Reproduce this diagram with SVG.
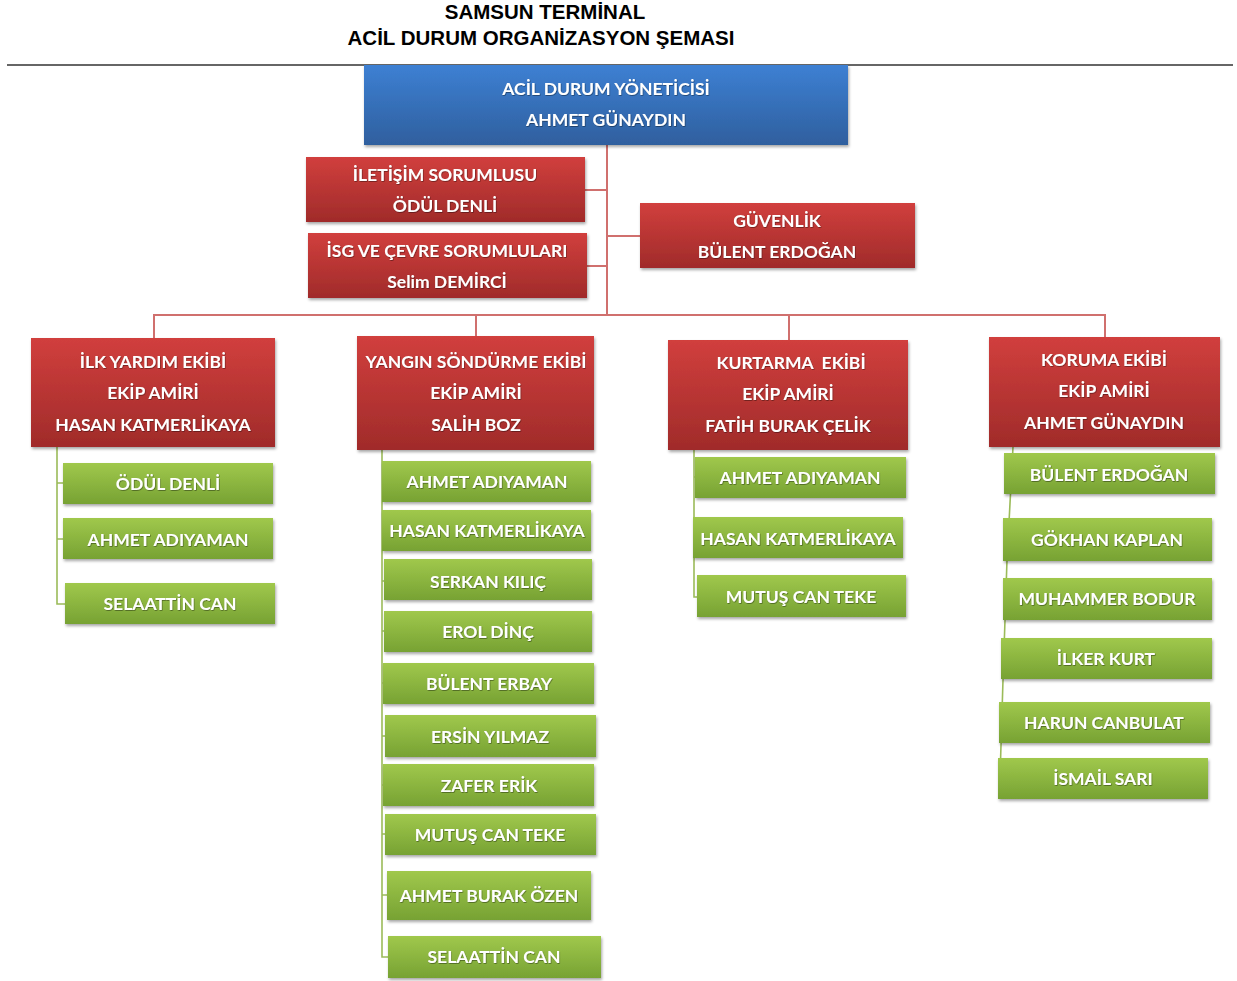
<svg xmlns="http://www.w3.org/2000/svg" width="1237" height="981" viewBox="0 0 1237 981">
<defs>
<linearGradient id="gBlue" x1="0" y1="0" x2="0" y2="1"><stop offset="0" stop-color="#3d80d3"/><stop offset="1" stop-color="#2f5f9e"/></linearGradient>
<linearGradient id="gRed" x1="0" y1="0" x2="0" y2="1"><stop offset="0" stop-color="#d13f3d"/><stop offset="1" stop-color="#a02b2a"/></linearGradient>
<linearGradient id="gGreen" x1="0" y1="0" x2="0" y2="1"><stop offset="0" stop-color="#a0c84c"/><stop offset="1" stop-color="#77a233"/></linearGradient>
<filter id="sh" x="-10%" y="-20%" width="120%" height="150%"><feDropShadow dx="1" dy="2" stdDeviation="1.5" flood-color="#000" flood-opacity="0.35"/></filter>
<filter id="tsh" x="-10%" y="-30%" width="120%" height="160%"><feDropShadow dx="0.6" dy="0.8" stdDeviation="0.6" flood-color="#000" flood-opacity="0.45"/></filter>
</defs>
<style>
.blue{fill:url(#gBlue);filter:url(#sh)}
.red{fill:url(#gRed);filter:url(#sh)}
.green{fill:url(#gGreen);filter:url(#sh)}
.t{font-family:Lato,"Open Sans",sans-serif;font-weight:bold;font-size:17.5px;fill:#fff;text-anchor:middle;dominant-baseline:central;filter:url(#tsh)}
.title{font-family:"Liberation Sans",Arial,sans-serif;font-weight:bold;font-size:20.5px;fill:#000;text-anchor:middle}
.rl{stroke:#d0706e;stroke-width:2;fill:none}
.gl{stroke:#9bbb59;stroke-width:1.6;fill:none}
</style>
<rect width="1237" height="981" fill="#fff"/>
<g id="title">
<text class="title" x="545" y="19">SAMSUN TERMİNAL</text>
<text class="title" x="541" y="45">ACİL DURUM ORGANİZASYON ŞEMASI</text>
<line x1="7" y1="65" x2="1233" y2="65" stroke="#333" stroke-width="1.5"/>
</g>
<g id="connectors">
<path class="rl" d="M607 145V316M585 190H607M587 266H607M607 236H640"/>
<path class="rl" d="M154 338V315H1105V337M476 315V336M789 315V340"/>
<path class="gl" d="M57 447V604H65M57 483H63M57 539H63"/>
<path class="gl" d="M382 450V957H388M382 581H384M382 631H384M382 683H383M382 736H385M382 785H383M382 834H385M382 895H387"/>
<path class="gl" d="M694 450V597H697M694 477H695"/>
<path class="gl" d="M1013 447L1007 560L1003 680L1000 778M1008 474H1004M1006 539H1003M1005 598H1003M1003 658H1001M1001 722H999"/>
</g>
<g id="n-yonetici"><rect class="blue" x="364" y="65" width="484" height="80"/><text class="t" x="606" y="88">ACİL DURUM YÖNETİCİSİ</text><text class="t" x="606" y="119">AHMET GÜNAYDIN</text></g>
<g id="n-iletisim"><rect class="red" x="306" y="157" width="279" height="65"/><text class="t" x="445" y="174">İLETİŞİM SORUMLUSU</text><text class="t" x="445" y="205">ÖDÜL DENLİ</text></g>
<g id="n-isg"><rect class="red" x="308" y="233" width="279" height="65"/><text class="t" x="447" y="250">İSG VE ÇEVRE SORUMLULARI</text><text class="t" x="447" y="281">Selim DEMİRCİ</text></g>
<g id="n-guvenlik"><rect class="red" x="640" y="203" width="275" height="65"/><text class="t" x="777" y="220">GÜVENLİK</text><text class="t" x="777" y="251">BÜLENT ERDOĞAN</text></g>
<g id="n-ilkyardim"><rect class="red" x="31" y="338" width="244" height="109"/><text class="t" x="153" y="361">İLK YARDIM EKİBİ</text><text class="t" x="153" y="392">EKİP AMİRİ</text><text class="t" x="153" y="424">HASAN KATMERLİKAYA</text></g>
<g id="n-yangin"><rect class="red" x="357" y="336" width="237" height="114"/><text class="t" x="476" y="361">YANGIN SÖNDÜRME EKİBİ</text><text class="t" x="476" y="392">EKİP AMİRİ</text><text class="t" x="476" y="424">SALİH BOZ</text></g>
<g id="n-kurtarma"><rect class="red" x="668" y="340" width="240" height="110"/><text class="t" x="791" y="362" xml:space="preserve">KURTARMA  EKİBİ</text><text class="t" x="788" y="393">EKİP AMİRİ</text><text class="t" x="788" y="425">FATİH BURAK ÇELİK</text></g>
<g id="n-koruma"><rect class="red" x="989" y="337" width="231" height="110"/><text class="t" x="1104" y="359">KORUMA EKİBİ</text><text class="t" x="1104" y="390">EKİP AMİRİ</text><text class="t" x="1104" y="422">AHMET GÜNAYDIN</text></g>
<g id="n-iy1"><rect class="green" x="63" y="463" width="210" height="41"/><text class="t" x="168" y="483">ÖDÜL DENLİ</text></g>
<g id="n-iy2"><rect class="green" x="63" y="518" width="210" height="41"/><text class="t" x="168" y="539">AHMET ADIYAMAN</text></g>
<g id="n-iy3"><rect class="green" x="65" y="583" width="210" height="41"/><text class="t" x="170" y="603">SELAATTİN CAN</text></g>
<g id="n-ys1"><rect class="green" x="382" y="461" width="209" height="41"/><text class="t" x="487" y="481">AHMET ADIYAMAN</text></g>
<g id="n-ys2"><rect class="green" x="382" y="510" width="209" height="41"/><text class="t" x="487" y="530">HASAN KATMERLİKAYA</text></g>
<g id="n-ys3"><rect class="green" x="384" y="559" width="208" height="41"/><text class="t" x="488" y="581">SERKAN KILIÇ</text></g>
<g id="n-ys4"><rect class="green" x="384" y="611" width="208" height="41"/><text class="t" x="488" y="631">EROL DİNÇ</text></g>
<g id="n-ys5"><rect class="green" x="383" y="663" width="211" height="41"/><text class="t" x="489" y="683">BÜLENT ERBAY</text></g>
<g id="n-ys6"><rect class="green" x="385" y="715" width="211" height="42"/><text class="t" x="490" y="736">ERSİN YILMAZ</text></g>
<g id="n-ys7"><rect class="green" x="383" y="764" width="211" height="42"/><text class="t" x="489" y="785">ZAFER ERİK</text></g>
<g id="n-ys8"><rect class="green" x="385" y="814" width="211" height="41"/><text class="t" x="490" y="834">MUTUŞ CAN TEKE</text></g>
<g id="n-ys9"><rect class="green" x="387" y="871" width="204" height="49"/><text class="t" x="489" y="895">AHMET BURAK ÖZEN</text></g>
<g id="n-ys10"><rect class="green" x="388" y="936" width="213" height="42"/><text class="t" x="494" y="956">SELAATTİN CAN</text></g>
<g id="n-ku1"><rect class="green" x="695" y="457" width="211" height="41"/><text class="t" x="800" y="477">AHMET ADIYAMAN</text></g>
<g id="n-ku2"><rect class="green" x="693" y="517" width="210" height="41"/><text class="t" x="798" y="538">HASAN KATMERLİKAYA</text></g>
<g id="n-ku3"><rect class="green" x="697" y="575" width="209" height="42"/><text class="t" x="801" y="596">MUTUŞ CAN TEKE</text></g>
<g id="n-ko1"><rect class="green" x="1004" y="453" width="211" height="41"/><text class="t" x="1109" y="474">BÜLENT ERDOĞAN</text></g>
<g id="n-ko2"><rect class="green" x="1003" y="518" width="209" height="43"/><text class="t" x="1107" y="539">GÖKHAN KAPLAN</text></g>
<g id="n-ko3"><rect class="green" x="1003" y="578" width="209" height="42"/><text class="t" x="1107" y="598">MUHAMMER BODUR</text></g>
<g id="n-ko4"><rect class="green" x="1001" y="638" width="211" height="41"/><text class="t" x="1106" y="658">İLKER KURT</text></g>
<g id="n-ko5"><rect class="green" x="999" y="702" width="211" height="41"/><text class="t" x="1104" y="722">HARUN CANBULAT</text></g>
<g id="n-ko6"><rect class="green" x="998" y="758" width="210" height="41"/><text class="t" x="1103" y="778">İSMAİL SARI</text></g>
</svg>
